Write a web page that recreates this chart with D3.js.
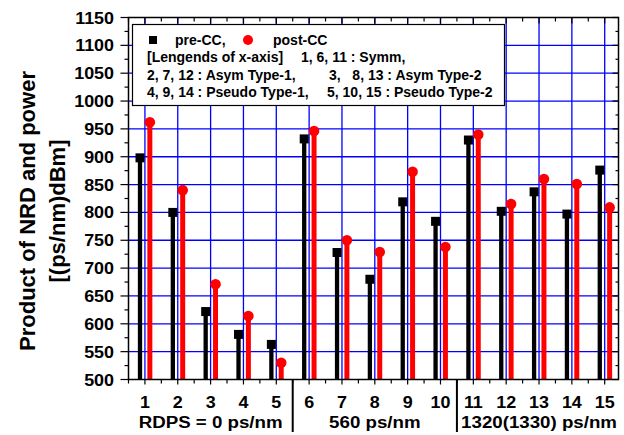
<!DOCTYPE html>
<html><head><meta charset="utf-8">
<script src="https://cdn.jsdelivr.net/npm/d3@7"></script>
<style>
html,body{margin:0;padding:0;background:#fff;}
text{font-family:"Liberation Sans",Arial,sans-serif;font-weight:bold;fill:#000;}
</style></head>
<body><svg id="c" width="624" height="435"></svg>
<script>
const positions = [1,2,3,4,5,6,7,8,9,10,11,12,13,14,15];
const preCC  = [898,800,622,581,563,932,728,680,819,784,930,802,837,797,876];
const postCC = [962,840,671,614,530,946,750,729,873,738,940,815,860,851,809];
const yTicks = [500,550,600,650,700,750,800,850,900,950,1000,1050,1100,1150];
const groupLabels = ["RDPS = 0 ps/nm","560 ps/nm","1320(1330) ps/nm"];
const groupCenters = [3,8,13];
const separators = [5.5,10.5];
const legendLines = [
  ["[Lengends of x-axis]","1, 6, 11 : Symm,"],
  ["2, 7, 12 : Asym Type-1,","3,   8, 13 : Asym Type-2"],
  ["4, 9, 14 : Pseudo Type-1,","5, 10, 15 : Pseudo Type-2"]
];

const svg = d3.select("#c");
const L=128.5, R=618.5, T=17.5, B=379.5;
const x = d3.scaleLinear().domain([0.5,15.42]).range([L,R]);
const y = d3.scaleLinear().domain([500,1150]).range([B,T]);
const SX = 1.12;

// grid
const gridG = svg.append("g").attr("stroke","#0000ff").attr("stroke-width",1.3).attr("fill","none");
positions.forEach(d=>{
  gridG.append("path").attr("d",`M${x(d)},${T}V${B}`);
});
yTicks.filter(v=>v>500&&v<1150).forEach(v=>{
  gridG.append("path").attr("d",`M${L},${y(v)}H${R}`);
});

// stems
const off = 0.15;
svg.append("g").selectAll("line").data(positions).join("line")
  .attr("x1",d=>x(d-off)).attr("x2",d=>x(d-off))
  .attr("y1",(d,i)=>y(preCC[i])).attr("y2",B).attr("stroke","#000").attr("stroke-width",4.3);
svg.append("g").selectAll("rect").data(positions).join("rect")
  .attr("x",d=>x(d-off)-4.5).attr("y",(d,i)=>y(preCC[i])-4.5)
  .attr("width",9).attr("height",9).attr("fill","#000");
svg.append("g").selectAll("line").data(positions).join("line")
  .attr("x1",d=>x(d+off)).attr("x2",d=>x(d+off))
  .attr("y1",(d,i)=>y(postCC[i])).attr("y2",B).attr("stroke","#ff0000").attr("stroke-width",5);
svg.append("g").selectAll("circle").data(positions).join("circle")
  .attr("cx",d=>x(d+off)).attr("cy",(d,i)=>y(postCC[i]))
  .attr("r",5.3).attr("fill","#ff0000");

// frame
svg.append("rect").attr("x",L).attr("y",T).attr("width",R-L).attr("height",B-T)
  .attr("fill","none").attr("stroke","#000").attr("stroke-width",1.5);

// y ticks
const yMinor = d3.range(500,1151,25);
svg.append("g").selectAll("line").data(yMinor).join("line")
  .attr("x1",d=>L-(d%50===0?8:4)).attr("x2",L).attr("y1",d=>y(d)).attr("y2",d=>y(d))
  .attr("stroke","#000").attr("stroke-width",1.2);
svg.append("g").selectAll("line").data(yMinor).join("line")
  .attr("x1",d=>R-(d%50===0?6:3)).attr("x2",R).attr("y1",d=>y(d)).attr("y2",d=>y(d))
  .attr("stroke","#000").attr("stroke-width",1.2);
svg.append("g").selectAll("text").data(yTicks).join("text")
  .attr("transform",d=>`translate(114,${y(d)+6}) scale(${SX},1)`)
  .attr("text-anchor","end").attr("font-size",16).text(d=>d);

// x ticks
const xMinor = d3.range(1,31).map(k=>k/2).filter(v=>v<=15.4);
svg.append("g").selectAll("line").data(xMinor).join("line")
  .attr("x1",d=>x(d)).attr("x2",d=>x(d)).attr("y1",B).attr("y2",d=>B+(Number.isInteger(d)?5:4))
  .attr("stroke","#000").attr("stroke-width",1.2);
svg.append("g").selectAll("line").data(xMinor).join("line")
  .attr("x1",d=>x(d)).attr("x2",d=>x(d)).attr("y1",T).attr("y2",d=>T+(Number.isInteger(d)?6:4))
  .attr("stroke","#000").attr("stroke-width",1.2);
svg.append("g").selectAll("text").data(positions).join("text")
  .attr("transform",d=>`translate(${x(d)},408) scale(${SX},1)`)
  .attr("text-anchor","middle").attr("font-size",16).text(d=>d);

// separators
svg.append("g").selectAll("line").data(separators).join("line")
  .attr("x1",d=>x(d)).attr("x2",d=>x(d)).attr("y1",B).attr("y2",432)
  .attr("stroke","#000").attr("stroke-width",2);

// group labels
svg.append("g").selectAll("text").data(groupLabels).join("text")
  .attr("transform",(d,i)=>`translate(${x(groupCenters[i])},428) scale(1.1,1)`)
  .attr("text-anchor","middle").attr("font-size",17).text(d=>d);

// y title
svg.append("text").attr("transform","translate(35,211) rotate(-90)")
  .attr("text-anchor","middle").attr("font-size",22).text("Product of NRD and power");
svg.append("text").attr("transform","translate(65,211) rotate(-90)")
  .attr("text-anchor","middle").attr("font-size",22).text("[(ps/nm)dBm]");

// legend
const lg = svg.append("g");
lg.append("rect").attr("x",132.5).attr("y",24.5).attr("width",372).attr("height",81)
  .attr("fill","#fff").attr("stroke","#000").attr("stroke-width",1.2);
lg.append("rect").attr("x",149).attr("y",36).attr("width",8).attr("height",8).attr("fill","#000");
lg.append("text").attr("x",175).attr("y",45).attr("font-size",14).text("pre-CC,");
lg.append("circle").attr("cx",248).attr("cy",40).attr("r",5).attr("fill","#ff0000");
lg.append("text").attr("x",273).attr("y",45).attr("font-size",14).text("post-CC");
const lx2 = [301,329,327];
legendLines.forEach((ln,i)=>{
  lg.append("text").attr("x",147).attr("y",62+i*17.5).attr("font-size",14).text(ln[0]);
  lg.append("text").attr("x",lx2[i]).attr("y",62+i*17.5).attr("font-size",14)
    .style("white-space","pre").text(ln[1]);
});
</script></body></html>
